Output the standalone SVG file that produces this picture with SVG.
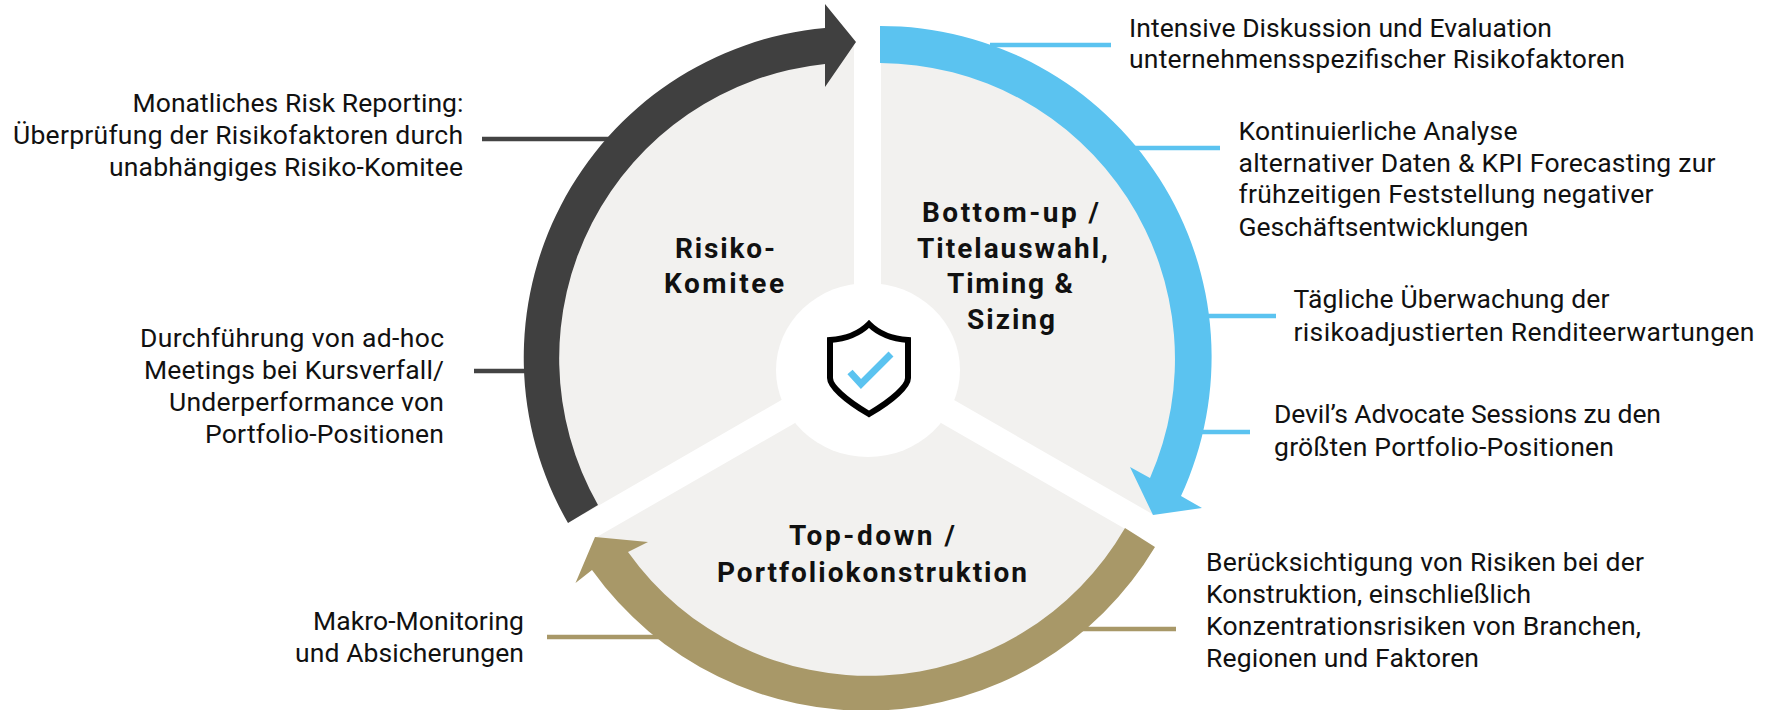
<svg xmlns="http://www.w3.org/2000/svg" width="1777" height="710" viewBox="0 0 1777 710">
<style>
.t{font-family:Roboto,"Noto Sans",sans-serif;font-size:26.5px;fill:#111}
.h{font-family:Roboto,"Noto Sans",sans-serif;font-size:28px;font-weight:700;fill:#111}
.s{fill:#f2f1ef}
.c{stroke-width:4.5;fill:none}
.bl{stroke:#5bc3f0}.dk{stroke:#444}.gd{stroke:#a89868}
</style>
<rect width="1777" height="710" fill="#fff"/>
<g id="connectors">
<path class="c dk" d="M482 139H620"/>
<path class="c dk" d="M474 371H530"/>
<path class="c bl" d="M990 45H1111"/>
<path class="c bl" d="M1120 148H1220"/>
<path class="c bl" d="M1195 316H1276"/>
<path class="c bl" d="M1190 432H1250"/>
<path class="c gd" d="M547 637H680"/>
<path class="c gd" d="M1070 629H1176"/>
</g>
<g id="node-risiko-komitee">
<path class="s" d="M854 358L854 46A312 312 0 0 0 584 514Z"/>
<path fill="#404040" d="M568 523A331 331 0 0 1 825 28V4L856 42L825 87V64A296 296 0 0 0 598 505Z"/>
<text class="h" x="675" y="258" textLength="100">Risiko-</text>
<text class="h" x="664" y="293" textLength="120">Komitee</text>
</g>
<g id="node-bottom-up">
<path class="s" d="M881 358L881 46A312 312 0 0 1 1154 515Z"/>
<path fill="#5bc3f0" d="M880 26A331 331 0 0 1 1181 496L1202 508L1153 515L1130 467L1150 478A296 296 0 0 0 880 63Z"/>
<text class="h" x="922" y="222" textLength="177">Bottom-up /</text>
<text class="h" x="917" y="258" textLength="191">Titelauswahl,</text>
<text class="h" x="947" y="293" textLength="126">Timing &amp;</text>
<text class="h" x="967" y="329" textLength="88">Sizing</text>
</g>
<g id="node-top-down">
<path class="s" d="M868 381L1141 538A315 315 0 0 1 595 538Z"/>
<path fill="#a89868" d="M1155 547A337 337 0 0 1 592 570L575.5 583L595 537L648 542L628 552A296 296 0 0 0 1125 528Z"/>
<text class="h" x="789" y="545" textLength="166">Top-down /</text>
<text class="h" x="717" y="582" textLength="310">Portfoliokonstruktion</text>
</g>
<g id="node-center">
<ellipse cx="868" cy="370" rx="92" ry="87" fill="#fff"/>
<path fill="none" stroke="#000" stroke-width="6" stroke-linejoin="miter" d="M869 324C859 334 845 339 830 340V378C830 386 845 400 869 414C893 400 908 386 908 378V340C893 339 879 334 869 324Z"/>
<path fill="none" stroke="#5bc3f0" stroke-width="7" d="M850 372L861 384L891 354"/>
</g>
<g id="note-1">
<text class="t" x="1129" y="37" textLength="423">Intensive Diskussion und Evaluation</text>
<text class="t" x="1129" y="68" textLength="496">unternehmensspezifischer Risikofaktoren</text>
</g>
<g id="note-2">
<text class="t" x="1238.5" y="140" textLength="279">Kontinuierliche Analyse</text>
<text class="t" x="1238.5" y="172" textLength="477">alternativer Daten &amp; KPI Forecasting zur</text>
<text class="t" x="1238.5" y="203" textLength="415">frühzeitigen Feststellung negativer</text>
<text class="t" x="1238.5" y="236" textLength="290">Geschäftsentwicklungen</text>
</g>
<g id="note-3">
<text class="t" x="1293.5" y="308" textLength="316">Tägliche Überwachung der</text>
<text class="t" x="1293.5" y="341" textLength="461">risikoadjustierten Renditeerwartungen</text>
</g>
<g id="note-4">
<text class="t" x="1274" y="423" textLength="387">Devil’s Advocate Sessions zu den</text>
<text class="t" x="1274" y="456" textLength="340">größten Portfolio-Positionen</text>
</g>
<g id="note-5">
<text class="t" x="1206" y="571" textLength="438">Berücksichtigung von Risiken bei der</text>
<text class="t" x="1206" y="603" textLength="325">Konstruktion, einschließlich</text>
<text class="t" x="1206" y="635" textLength="435">Konzentrationsrisiken von Branchen,</text>
<text class="t" x="1206" y="667" textLength="273">Regionen und Faktoren</text>
</g>
<g id="note-6">
<text class="t" x="132.5" y="112" textLength="331">Monatliches Risk Reporting:</text>
<text class="t" x="13" y="144" textLength="450">Überprüfung der Risikofaktoren durch</text>
<text class="t" x="109" y="176" textLength="354">unabhängiges Risiko-Komitee</text>
</g>
<g id="note-7">
<text class="t" x="140" y="347" textLength="304">Durchführung von ad-hoc</text>
<text class="t" x="144" y="379" textLength="300">Meetings bei Kursverfall/</text>
<text class="t" x="169" y="411" textLength="275">Underperformance von</text>
<text class="t" x="205" y="443" textLength="239">Portfolio-Positionen</text>
</g>
<g id="note-8">
<text class="t" x="313" y="630" textLength="211">Makro-Monitoring</text>
<text class="t" x="295" y="662" textLength="229">und Absicherungen</text>
</g>
</svg>
